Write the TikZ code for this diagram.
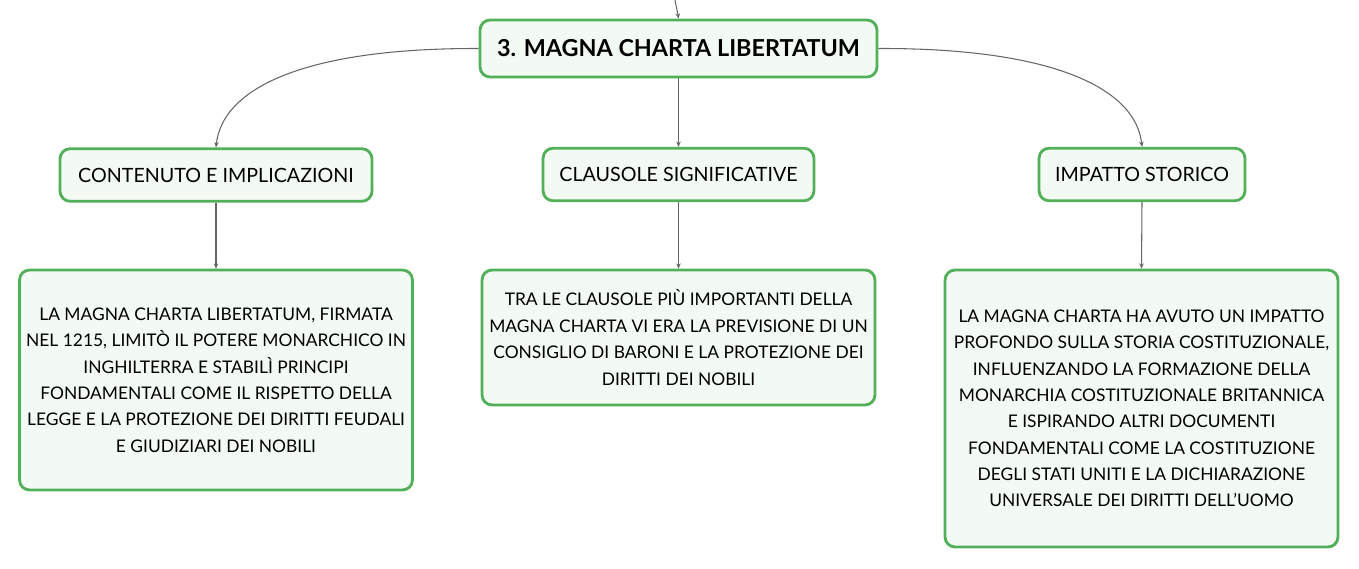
\documentclass[tikz,border=0pt]{standalone}
\usepackage{fontspec}
\setmainfont{Lato}
\usepackage{tikz}
\usetikzlibrary{arrows.meta, positioning, calc}
\definecolor{mapgreen}{HTML}{52B05A}
\definecolor{mapfill}{HTML}{F3FAF4}
\definecolor{linkgray}{HTML}{666666}

\begin{document}
\begin{tikzpicture}[x=0.02cm, y=-0.02cm,
    box/.style={draw=mapgreen, fill=mapfill, line width=1.6pt, rounded corners=0.2cm, align=center, inner sep=0pt},
    titlebox/.style={box, font=\fontsize{13.3}{16}\selectfont\bfseries, minimum width=7.94cm, minimum height=1.14cm},
    headbox/.style={box, font=\fontsize{11.2}{13}\selectfont, minimum height=1.05cm},
    textbox/.style={box, font=\fontsize{9.9}{15}\selectfont, minimum width=7.86cm},
    link/.style={draw=linkgray, line width=0.6pt, -{Stealth[length=3pt, width=2.6pt]}}]
    \useasboundingbox (0,0) rectangle (1359,568);

    % Title
    \node[titlebox] (title) at (678.5,48.5) {3. MAGNA CHARTA LIBERTATUM};
    \coordinate (parent) at (675,0);

    % Branches
    \node[headbox, minimum width=6.24cm] (contenuto) at (216,175) {CONTENUTO E IMPLICAZIONI};
    \node[headbox, minimum width=5.42cm] (clausole) at (678.5,174.5) {CLAUSOLE SIGNIFICATIVE};
    \node[headbox, minimum width=4.12cm] (impatto) at (1142,174.5) {IMPATTO STORICO};

    % Details
    \node[textbox, minimum height=4.4cm] (testo1) at (216,380) {LA MAGNA CHARTA LIBERTATUM, FIRMATA\\NEL 1215, LIMITÒ IL POTERE MONARCHICO IN\\INGHILTERRA E STABILÌ PRINCIPI\\FONDAMENTALI COME IL RISPETTO DELLA\\LEGGE E LA PROTEZIONE DEI DIRITTI FEUDALI\\E GIUDIZIARI DEI NOBILI};
    \node[textbox, minimum height=2.7cm] (testo2) at (678.5,337.5) {TRA LE CLAUSOLE PIÙ IMPORTANTI DELLA\\MAGNA CHARTA VI ERA LA PREVISIONE DI UN\\CONSIGLIO DI BARONI E LA PROTEZIONE DEI\\DIRITTI DEI NOBILI};
    \node[textbox, minimum height=5.54cm] (testo3) at (1141.5,408.5) {LA MAGNA CHARTA HA AVUTO UN IMPATTO\\PROFONDO SULLA STORIA COSTITUZIONALE,\\INFLUENZANDO LA FORMAZIONE DELLA\\MONARCHIA COSTITUZIONALE BRITANNICA\\E ISPIRANDO ALTRI DOCUMENTI\\FONDAMENTALI COME LA COSTITUZIONE\\DEGLI STATI UNITI E LA DICHIARAZIONE\\UNIVERSALE DEI DIRITTI DELL'UOMO};

    % Connectors
    \draw[link] (parent) .. controls (677,8) .. (title.north);
    \draw[link] (title.west) .. controls (300,48) and (222,90) .. (contenuto.north);
    \draw[link] (title.south) -- (clausole.north);
    \draw[link] (title.east) .. controls (1057,48) and (1136,90) .. (impatto.north);
    \draw[link] (contenuto.south) -- (testo1.north);
    \draw[link] (clausole.south) -- (testo2.north);
    \draw[link] (impatto.south) -- (testo3.north);
\end{tikzpicture}
\end{document}
